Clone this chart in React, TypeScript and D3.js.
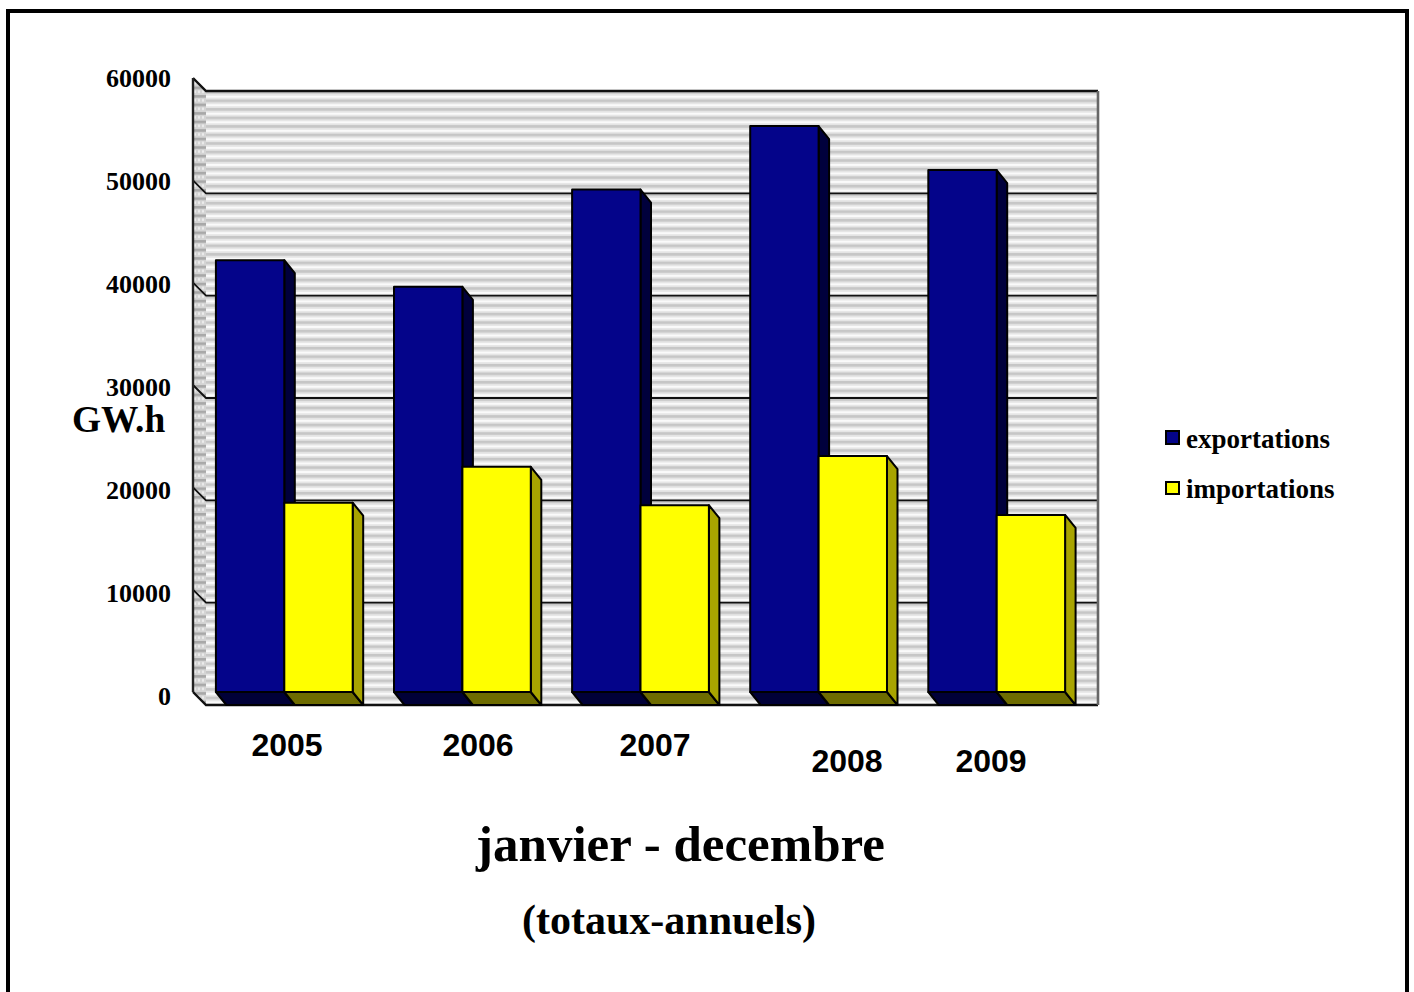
import React from "react";
import * as d3 from "d3";

const years = ["2005", "2006", "2007", "2008", "2009"];
const exportations = [42200, 39600, 49100, 55300, 51000];
const importations = [18500, 22000, 18250, 23050, 17300];
const yTicks = [0, 10000, 20000, 30000, 40000, 50000, 60000];

// the year labels sit unevenly in the original
const yearLabelX = [287, 478, 655, 847, 991];
const yearLabelY = [756, 756, 756, 772, 772];

const W = 1414;
const H = 992;
const depthX = 13;
const depthY = 13;
const barDepthX = 10.5;
const barDepthY = 13;
const left = 193;
const right = 1085;
const top = 78;
const bottom = 692;

const NAVY = "#04048a";
const YELLOW = "#ffff00";

const y = d3.scaleLinear().domain([0, 60000]).range([bottom, top]);
// tick labels are spaced a touch wider than the grid
const yLabel = d3.scaleLinear().domain([0, 60000]).range([705, 87]);
const x0 = d3.scaleBand<string>().domain(years).range([left + 1, right + 2]).paddingInner(0.232).paddingOuter(0.123);
const x1 = d3.scaleBand<string>().domain(["exp", "imp"]).range([0, x0.bandwidth()]);

const pts = (p: number[][]) => p.map((d) => d.join(",")).join(" ");

function Bar({ xPos, w, value, fill, side, floor }: { xPos: number; w: number; value: number; fill: string; side: string; floor: string }) {
  const yTop = y(value);
  const xr = xPos + w;
  return (
    <g stroke="#000" strokeWidth={2} strokeLinejoin="round">
      <polygon fill={floor} points={pts([[xPos, bottom], [xr, bottom], [xr + barDepthX, bottom + barDepthY], [xPos + barDepthX, bottom + barDepthY]])} />
      <polygon fill={side} points={pts([[xr, yTop], [xr + barDepthX, yTop + barDepthY], [xr + barDepthX, bottom + barDepthY], [xr, bottom]])} />
      <rect x={xPos} y={yTop} width={w} height={bottom - yTop} fill={fill} />
    </g>
  );
}

export default function App() {
  return (
    <svg width={W} height={H} style={{ position: "absolute", left: 0, top: 0 }} fontFamily="'Liberation Serif', serif">
      <defs>
        <pattern id="stripes" width={8} height={8.53} patternUnits="userSpaceOnUse" y={top + depthY}>
          <rect width={8} height={8.53} fill="#e4e4e4" />
          <rect y={0} width={8} height={2.6} fill="#c6c6c6" />
          <rect y={4.6} width={8} height={2.2} fill="#fafafa" />
        </pattern>
        <pattern id="wallStripes" width={4} height={8.53} patternUnits="userSpaceOnUse" y={top}>
          <rect width={4} height={8.53} fill="#d4d4d4" />
          <rect y={0} width={4} height={2.6} fill="#a8a8a8" />
          <rect x={2} y={4} width={2} height={2.5} fill="#ececec" />
        </pattern>
      </defs>
      {/* page frame, open at the bottom */}
      <path d={`M8,${H}V11H1407V${H}`} fill="none" stroke="#000" strokeWidth={4} />

      {/* back wall and side wall */}
      <rect x={left + depthX} y={top + depthY} width={right - left} height={bottom - top} fill="url(#stripes)" />
      <polygon points={pts([[left, top], [left + depthX, top + depthY], [left + depthX, bottom + depthY], [left, bottom]])} fill="url(#wallStripes)" />

      {yTicks.map((t) => (
        <path
          key={t}
          d={`M${left},${y(t)}L${left + depthX},${y(t) + depthY}H${right + depthX}`}
          fill="none"
          stroke="#111"
          strokeWidth={t === 0 || t === 60000 ? 2.4 : 1.8}
        />
      ))}
      <path d={`M${left},${top}V${bottom}`} stroke="#222" strokeWidth={2.4} fill="none" />
      <path d={`M${right + depthX},${top + depthY}V${bottom + depthY}`} stroke="#666" strokeWidth={2.6} fill="none" />

      {years.map((yr, i) => {
        const base = x0(yr) as number;
        return (
          <g key={yr}>
            <Bar xPos={base + (x1("exp") as number)} w={x1.bandwidth()} value={exportations[i]} fill={NAVY} side="#00003c" floor="#000038" />
            <Bar xPos={base + (x1("imp") as number)} w={x1.bandwidth()} value={importations[i]} fill={YELLOW} side="#a8a400" floor="#6e6c00" />
          </g>
        );
      })}

      {yTicks.map((t) => (
        <text key={t} x={171} y={yLabel(t)} textAnchor="end" fontSize={26} fontWeight="bold" fill="#000">
          {t}
        </text>
      ))}
      <text x={72} y={432} fontSize={37.4} fontWeight="bold" fill="#000">GW.h</text>

      {years.map((yr, i) => (
        <text key={yr} x={yearLabelX[i]} y={yearLabelY[i]} textAnchor="middle" fontSize={32} fontWeight="bold" fontFamily="'Liberation Sans', sans-serif" fill="#000">
          {yr}
        </text>
      ))}

      <rect x={1166} y={431} width={13} height={13} fill={NAVY} stroke="#000" strokeWidth={2} />
      <text x={1186} y={448} fontSize={27} fontWeight="bold" fill="#000">exportations</text>
      <rect x={1166} y={482} width={13} height={12} fill={YELLOW} stroke="#000" strokeWidth={2} />
      <text x={1186} y={498} fontSize={27} fontWeight="bold" fill="#000">importations</text>

      <text x={680.5} y={861} textAnchor="middle" fontSize={51} fontWeight="bold" fill="#000">janvier - decembre</text>
      <text x={669} y={934} textAnchor="middle" fontSize={42} fontWeight="bold" fill="#000">(totaux-annuels)</text>
    </svg>
  );
}
